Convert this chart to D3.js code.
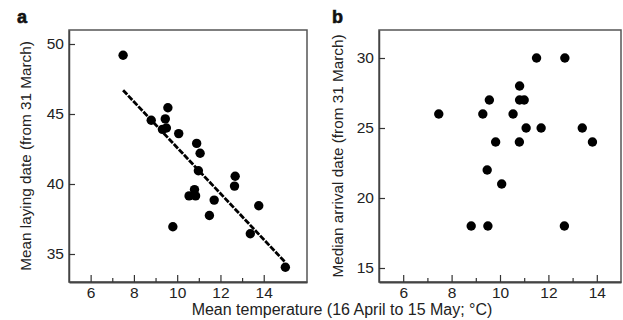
<!DOCTYPE html>
<html>
<head>
<meta charset="utf-8">
<script src="https://cdn.jsdelivr.net/npm/d3@7"></script>
<style>
  body { margin: 0; background: #fff; }
  svg { display: block; font-family: "Liberation Sans", Arial, Helvetica, sans-serif; }
</style>
</head>
<body>
<svg id="chart" width="623" height="320"></svg>
<script>
// panel a: mean temperature vs mean laying date
const tempA = [7.5, 8.8, 9.45, 9.57, 9.32, 9.5, 10.07, 10.9, 11.06, 10.98, 12.68,
  12.65, 10.8, 10.55, 10.85, 11.71, 11.49, 9.8, 13.77, 13.38, 15.0];
const layDate = [49.2, 44.55, 44.65, 45.45, 43.9, 44.0, 43.6, 42.9, 42.2, 40.95, 40.55,
  39.85, 39.6, 39.15, 39.15, 38.85, 37.75, 36.95, 38.45, 36.45, 34.05];
// fitted line end points (temperature, date)
const fitTemp = [7.5, 15.0];
const fitDate = [46.7, 34.4];

// panel b: mean temperature vs median arrival date
const tempB = [7.47, 9.29, 9.56, 9.82, 10.54, 10.81, 10.81, 11.0, 10.8, 11.08,
  11.51, 11.7, 12.68, 13.4, 13.82, 9.47, 10.07, 8.81, 9.5, 12.66];
const arrDate = [26, 26, 27, 24, 26, 28, 27, 27, 24, 25,
  30, 25, 30, 25, 24, 22, 21, 18, 18, 18];

const xMajor = [6, 8, 10, 12, 14];
const xMinor = [7, 9, 11, 13];
const yTicksA = [35, 40, 45, 50];
const yTicksB = [15, 20, 25, 30];

const svg = d3.select("#chart");
const plotTop = 30, plotBottom = 282;

function drawPanel(opt) {
  const x = d3.scaleLinear().domain(opt.xDomain).range([opt.left, opt.right]);
  const y = d3.scaleLinear().domain(opt.yDomain).range([plotBottom, plotTop]);
  const g = svg.append("g");

  // frame
  g.append("rect")
    .attr("x", opt.left).attr("y", plotTop)
    .attr("width", opt.right - opt.left).attr("height", plotBottom - plotTop)
    .attr("fill", "none").attr("stroke", "#555").attr("stroke-width", 1.5);

  // bottom axis, ticks inward
  g.append("g")
    .attr("transform", "translate(0," + plotBottom + ")")
    .call(d3.axisBottom(x).tickValues(xMajor).tickSizeInner(-7).tickSizeOuter(0).tickPadding(5))
    .call(a => a.select(".domain").attr("stroke", "#444").attr("stroke-width", 2))
    .call(a => a.selectAll(".tick line").attr("stroke", "#333").attr("stroke-width", 1.2))
    .call(a => a.selectAll("text").attr("font-size", 15.5).attr("fill", "#222")
      .attr("font-family", "Liberation Sans, Arial, sans-serif"));
  g.append("g")
    .attr("transform", "translate(0," + plotBottom + ")")
    .call(d3.axisBottom(x).tickValues(xMinor).tickSizeInner(-4).tickSizeOuter(0).tickFormat(""))
    .call(a => a.select(".domain").remove())
    .call(a => a.selectAll(".tick line").attr("stroke", "#333").attr("stroke-width", 1.2));

  // left axis, ticks inward
  g.append("g")
    .attr("transform", "translate(" + opt.left + ",0)")
    .call(d3.axisLeft(y).tickValues(opt.yTicks).tickSizeInner(-6).tickSizeOuter(0).tickPadding(5))
    .call(a => a.select(".domain").attr("stroke", "#444").attr("stroke-width", 1.5))
    .call(a => a.selectAll(".tick line").attr("stroke", "#333").attr("stroke-width", 1.2))
    .call(a => a.selectAll("text").attr("font-size", 15.5).attr("fill", "#222")
      .attr("font-family", "Liberation Sans, Arial, sans-serif"));

  // fitted line
  if (opt.fit) {
    g.append("line")
      .attr("x1", x(opt.fit[0][0])).attr("y1", y(opt.fit[1][0]))
      .attr("x2", x(opt.fit[0][1])).attr("y2", y(opt.fit[1][1]))
      .attr("stroke", "#000").attr("stroke-width", 2.8)
      .attr("stroke-dasharray", "6,1.4");
  }

  // points
  g.selectAll("circle")
    .data(opt.xs.map((v, i) => [v, opt.ys[i]]))
    .enter()
    .append("circle")
      .attr("cx", d => x(d[0]))
      .attr("cy", d => y(d[1]))
      .attr("r", 4.7)
      .attr("fill", "#000");

  // y title
  svg.append("text")
    .attr("transform", "translate(" + opt.titleX + "," + ((plotTop + plotBottom) / 2) + ")rotate(-90)")
    .attr("text-anchor", "middle")
    .attr("font-size", 15.3).attr("fill", "#222")
    .text(opt.yTitle);

  // panel letter
  svg.append("text")
    .attr("x", opt.letterX).attr("y", 23)
    .attr("font-size", 18).attr("font-weight", "bold").attr("fill", "#111")
    .attr("stroke", "#111").attr("stroke-width", 0.6)
    .text(opt.letter);
}

drawPanel({
  left: 69, right: 307, xDomain: [5, 16], yDomain: [33, 51], yTicks: yTicksA,
  xs: tempA, ys: layDate, fit: [fitTemp, fitDate],
  yTitle: "Mean laying date (from 31 March)", titleX: 31, letter: "a", letterX: 17
});
drawPanel({
  left: 379, right: 621, xDomain: [5, 15], yDomain: [14, 32], yTicks: yTicksB,
  xs: tempB, ys: arrDate,
  yTitle: "Median arrival date (from 31 March)", titleX: 343, letter: "b", letterX: 332
});

// shared x title
svg.append("text")
  .attr("x", 342).attr("y", 315)
  .attr("text-anchor", "middle")
  .attr("font-size", 16).attr("fill", "#222")
  .text("Mean temperature (16 April to 15 May; °C)");
</script>
</body>
</html>
